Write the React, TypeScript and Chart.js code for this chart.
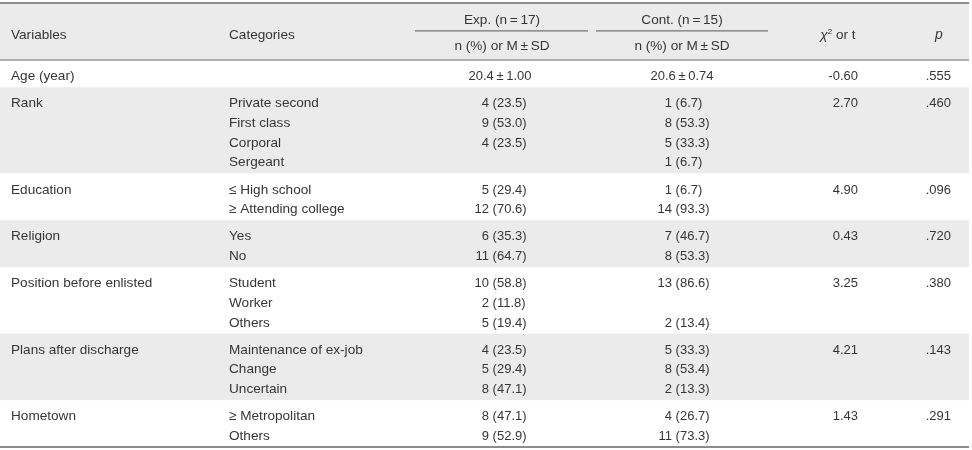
import React, { useEffect, useRef } from "react";
import { Chart, registerables } from "chart.js";

Chart.register(...registerables);

// ---------- data ----------
const variables = [
  "Age (year)",
  "Rank",
  "Education",
  "Religion",
  "Position before enlisted",
  "Plans after discharge",
  "Hometown",
];
const categories: string[][] = [
  [""],
  ["Private second", "First class", "Corporal", "Sergeant"],
  ["\u2264 High school", "\u2265 Attending college"],
  ["Yes", "No"],
  ["Student", "Worker", "Others"],
  ["Maintenance of ex-job", "Change", "Uncertain"],
  ["\u2265 Metropolitan", "Others"],
];
const expN: (number | null)[][] = [[null], [4, 9, 4, null], [5, 12], [6, 11], [10, 2, 5], [4, 5, 8], [8, 9]];
const expPct: (number | null)[][] = [[null], [23.5, 53.0, 23.5, null], [29.4, 70.6], [35.3, 64.7], [58.8, 11.8, 19.4], [23.5, 29.4, 47.1], [47.1, 52.9]];
const contN: (number | null)[][] = [[null], [1, 8, 5, 1], [1, 14], [7, 8], [13, null, 2], [5, 8, 2], [4, 11]];
const contPct: (number | null)[][] = [[null], [6.7, 53.3, 33.3, 6.7], [6.7, 93.3], [46.7, 53.3], [86.6, null, 13.4], [33.3, 53.4, 13.3], [26.7, 73.3]];
const ageExp = { mean: 20.4, sd: 1.0 };
const ageCont = { mean: 20.6, sd: 0.74 };
const statValues = [-0.6, 2.7, 4.9, 0.43, 3.25, 4.21, 1.43];
const pValues = [0.555, 0.46, 0.096, 0.72, 0.38, 0.143, 0.291];
const shadedGroups = [1, 3, 5];

const headerLabels = {
  variables: "Variables",
  categories: "Categories",
  exp: "Exp. (n\u2009=\u200917)",
  cont: "Cont. (n\u2009=\u200915)",
  sub: "n (%) or M\u2009\u00b1\u2009SD",
  stat: " or t",
  p: "p",
};

// ---------- layout (row units / x anchors) ----------
const HEADER_UNITS = 2.9;
const GROUP_PAD = 0.385;
const TEXT_SHIFT = 0.1;
const BASELINE_DROP = 4.6;
const X = {
  left: 0,
  right: 969,
  variables: 11,
  categories: 229,
  expCenter: 502,
  expN: 489,
  expUL: [415, 588],
  contCenter: 682,
  contN: 672,
  contUL: [596, 768],
  statCenter: 838,
  statRight: 858,
  pCenter: 939,
  pRight: 951,
};

const FONT = '"Liberation Sans", Arial, sans-serif';
const LABEL_FONT = `13.6px ${FONT}`;
const NUM_FONT = `13px ${FONT}`;
const TEXT = "#363636";

function fmtP(v: number) {
  return v.toFixed(3).replace(/^0/, "");
}

const tablePlugin = {
  id: "tableDraw",
  beforeDatasetsDraw(chart: any) {
    const ctx = chart.ctx as CanvasRenderingContext2D;
    const xs = chart.scales.x;
    const ys = chart.scales.y;
    const px = (v: number) => xs.getPixelForValue(v);
    const py = (v: number) => ys.getPixelForValue(v);
    ctx.save();

    const tops: number[] = [];
    let cur = HEADER_UNITS;
    categories.forEach((c) => {
      tops.push(cur);
      cur += c.length + GROUP_PAD;
    });
    const bottom = cur;

    ctx.fillStyle = "#ebebeb";
    ctx.fillRect(px(X.left), py(0), px(X.right) - px(X.left), py(HEADER_UNITS) - py(0));
    shadedGroups.forEach((g) => {
      const t = tops[g];
      const b = t + categories[g].length + GROUP_PAD;
      ctx.fillRect(px(X.left), py(t), px(X.right) - px(X.left), py(b) - py(t));
    });

    const hline = (u: number, x0: number, x1: number, w: number, c: string) => {
      ctx.strokeStyle = c;
      ctx.lineWidth = w;
      ctx.beginPath();
      ctx.moveTo(px(x0), py(u));
      ctx.lineTo(px(x1), py(u));
      ctx.stroke();
    };
    hline(0, X.left, X.right, 2, "#8c8c8c");
    hline(HEADER_UNITS, X.left, X.right, 1.5, "#9a9a9a");
    hline(bottom, X.left, X.right, 2, "#8c8c8c");
    hline(1.42, X.expUL[0], X.expUL[1], 1, "#555");
    hline(1.42, X.contUL[0], X.contUL[1], 1, "#555");

    ctx.fillStyle = TEXT;
    ctx.textBaseline = "alphabetic";
    const yAt = (u: number) => py(u + TEXT_SHIFT) + BASELINE_DROP;
    const text = (s: string, x: number, u: number, align: CanvasTextAlign, font: string) => {
      ctx.font = font;
      ctx.textAlign = align;
      ctx.fillText(s, px(x), yAt(u));
    };

    // header
    text(headerLabels.variables, X.variables, 1.5, "left", LABEL_FONT);
    text(headerLabels.categories, X.categories, 1.5, "left", LABEL_FONT);
    text(headerLabels.exp, X.expCenter, 0.72, "center", LABEL_FONT);
    text(headerLabels.cont, X.contCenter, 0.72, "center", LABEL_FONT);
    text(headerLabels.sub, X.expCenter, 2.07, "center", LABEL_FONT);
    text(headerLabels.sub, X.contCenter, 2.07, "center", LABEL_FONT);
    {
      ctx.font = `italic 13.6px ${FONT}`;
      const wChi = ctx.measureText("\u03c7").width;
      ctx.font = `8px ${FONT}`;
      const wSup = ctx.measureText("2").width;
      ctx.font = LABEL_FONT;
      const wRest = ctx.measureText(headerLabels.stat).width;
      const total = wChi + wSup + wRest;
      const x0 = px(X.statCenter) - total / 2;
      const yy = yAt(1.5);
      ctx.textAlign = "left";
      ctx.font = `italic 13.6px ${FONT}`;
      ctx.fillText("\u03c7", x0, yy);
      ctx.font = `8px ${FONT}`;
      ctx.fillText("2", x0 + wChi, yy - 5);
      ctx.font = LABEL_FONT;
      ctx.fillText(headerLabels.stat, x0 + wChi + wSup, yy);
    }
    text(headerLabels.p, X.pCenter, 1.5, "center", `italic 14px ${FONT}`);

    // body
    categories.forEach((cats, g) => {
      const first = tops[g] + GROUP_PAD / 2 + 0.5;
      text(variables[g], X.variables, first, "left", LABEL_FONT);
      text(statValues[g].toFixed(2), X.statRight, first, "right", NUM_FONT);
      text(fmtP(pValues[g]), X.pRight, first, "right", NUM_FONT);
      cats.forEach((c, i) => {
        const u = first + i;
        if (c) text(c, X.categories, u, "left", LABEL_FONT);
        const en = expN[g][i];
        const ep = expPct[g][i];
        if (en != null && ep != null) {
          text(String(en), X.expN, u, "right", NUM_FONT);
          text(` (${ep.toFixed(1)})`, X.expN, u, "left", NUM_FONT);
        }
        const cn = contN[g][i];
        const cp = contPct[g][i];
        if (cn != null && cp != null) {
          text(String(cn), X.contN, u, "right", NUM_FONT);
          text(` (${cp.toFixed(1)})`, X.contN, u, "left", NUM_FONT);
        }
      });
      if (g === 0) {
        text(`${ageExp.mean.toFixed(1)}\u2009\u00b1\u2009${ageExp.sd.toFixed(2)}`, X.expCenter - 2, first, "center", NUM_FONT);
        text(`${ageCont.mean.toFixed(1)}\u2009\u00b1\u2009${ageCont.sd.toFixed(2)}`, X.contCenter, first, "center", NUM_FONT);
      }
    });

    ctx.restore();
  },
};

export default function App() {
  const ref = useRef<HTMLCanvasElement | null>(null);
  useEffect(() => {
    document.body.style.margin = "0";
    const canvas = ref.current!;
    const totalUnits = 450 / 19.65;
    const chart = new Chart(canvas, {
      type: "scatter",
      data: { datasets: [{ data: [], pointRadius: 0 }] },
      options: {
        animation: false,
        responsive: false,
        devicePixelRatio: 1,
        layout: { padding: 0 },
        plugins: { legend: { display: false }, tooltip: { enabled: false } },
        scales: {
          x: { type: "linear", min: 0, max: 972, display: false },
          y: {
            type: "linear",
            reverse: true,
            min: -3 / 19.65,
            max: totalUnits - 3 / 19.65,
            display: false,
          },
        },
      },
      plugins: [tablePlugin],
    });
    return () => chart.destroy();
  }, []);
  return (
    <div style={{ width: 972, height: 450, background: "#fff" }}>
      <canvas ref={ref} width={972} height={450} style={{ display: "block" }} />
    </div>
  );
}
